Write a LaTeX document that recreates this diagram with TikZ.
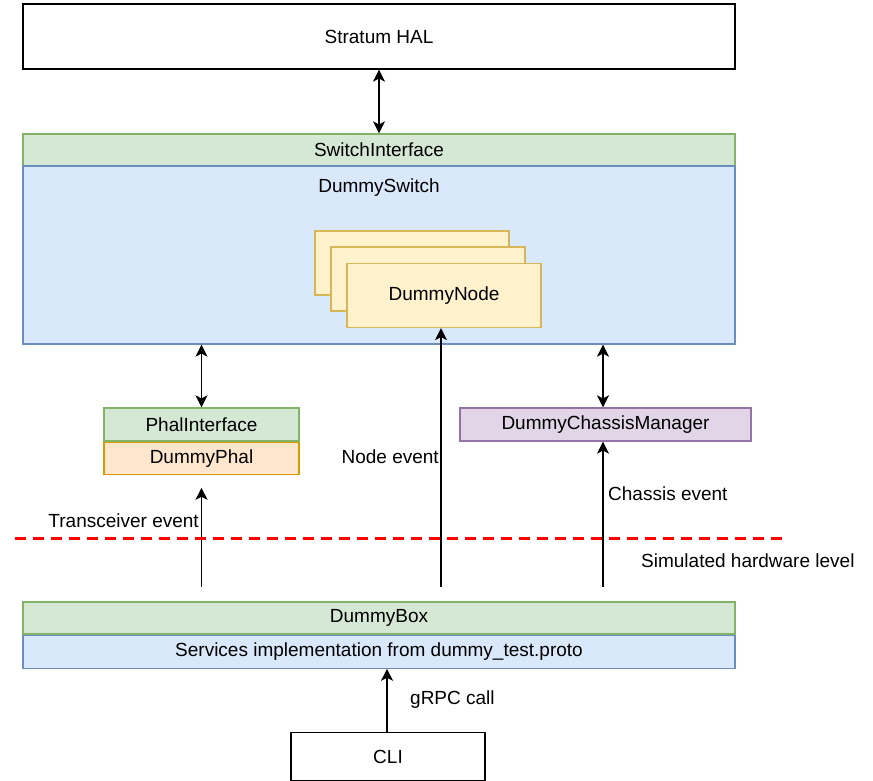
\documentclass[tikz,border=0pt]{standalone}
\usepackage{fontspec}
\setmainfont{Liberation Sans}
\usetikzlibrary{arrows.meta}

\definecolor{greenfill}{HTML}{D5E8D4}
\definecolor{greenline}{HTML}{82B366}
\definecolor{bluefill}{HTML}{DAE8FC}
\definecolor{blueline}{HTML}{6C8EBF}
\definecolor{yellowfill}{HTML}{FFF2CC}
\definecolor{yellowline}{HTML}{D6B656}
\definecolor{orangefill}{HTML}{FFE6CC}
\definecolor{orangeline}{HTML}{D79B00}
\definecolor{purplefill}{HTML}{E1D5E7}
\definecolor{purpleline}{HTML}{9673A6}

\begin{document}
\begin{tikzpicture}[
        %We set the scale and define some styles
        x=1pt, y=-1pt,
        every node/.style={font=\fontsize{19}{23}\selectfont, inner sep=0pt},
        box/.style={draw, line width=1.2pt, rectangle},
        plain box/.style={box, draw=black, fill=white},
        green box/.style={box, draw=greenline, fill=greenfill},
        blue box/.style={box, draw=blueline, fill=bluefill},
        yellow box/.style={box, draw=yellowline, fill=yellowfill, minimum width=194pt, minimum height=64pt},
        orange box/.style={box, draw=orangeline, fill=orangefill},
        purple box/.style={box, draw=purpleline, fill=purplefill},
        arrow/.style={line width=1.4pt, -{Stealth[length=12pt,width=12pt,inset=3pt]}},
        both arrow/.style={line width=1.4pt, {Stealth[length=12pt,width=12pt,inset=3pt]}-{Stealth[length=12pt,width=12pt,inset=3pt]}},
        level line/.style={red, line width=3pt, dash pattern=on 11pt off 7pt}
]
    \useasboundingbox (0,0) rectangle (873,781);

    % top layer
    \node[plain box, minimum width=712pt, minimum height=65pt] (hal) at (379,36.5) {Stratum HAL};
    \node[green box, minimum width=712pt, minimum height=32pt] (swif) at (379,150) {SwitchInterface};
    \node[blue box, minimum width=712pt, minimum height=178pt] (dswitch) at (379,255) {};
    \node (dswitchtext) at (379,188) {DummySwitch};

    % stack of nodes
    \node[yellow box] (node1) at (412,263) {};
    \node[yellow box] (node2) at (428,279) {};
    \node[yellow box] (node3) at (444,295.5) {DummyNode};

    % middle layer
    \node[green box, minimum width=195pt, minimum height=33pt] (phalif) at (201.5,424.5) {PhalInterface};
    \node[orange box, minimum width=195pt, minimum height=32pt, anchor=north] (phal) at (phalif.south) {DummyPhal};
    \node[purple box, minimum width=291pt, minimum height=33pt] (dcm) at (605.5,424.5) {DummyChassisManager};

    % bottom layer
    \node[green box, minimum width=712pt, minimum height=32pt] (dbox) at (379,618) {DummyBox};
    \node[blue box, minimum width=712pt, minimum height=33pt, anchor=north] (svc) at (dbox.south) {Services implementation from dummy\_test.proto};
    \node[plain box, minimum width=194pt, minimum height=48pt] (cli) at (388,756.5) {CLI};

    % connectors
    \coordinate (dcmtop) at (603,343);
    \coordinate (trx) at (201.5,587);
    \coordinate (nev) at (441,587);
    \coordinate (chs) at (603,587);
    \coordinate (grpc) at (387,700);
    \draw[both arrow] (hal.south) -- (swif.north);
    \draw[both arrow] (phalif.north |- dswitch.south) -- (phalif.north);
    \draw[both arrow] (dcmtop |- dswitch.south) -- (dcmtop |- dcm.north);
    \draw[arrow, shorten >=13pt] (trx) -- (phal.south);
    \draw[arrow] (nev) -- (nev |- node3.south);
    \draw[arrow] (chs) -- (chs |- dcm.south);
    \draw[arrow] (grpc |- cli.north) -- (grpc |- svc.south);

    % labels
    \node[anchor=east] (trxlabel) at (199,521) {Transceiver event};
    \node[anchor=east] (nevlabel) at (439,457) {Node event};
    \node[anchor=west] (chslabel) at (608,494) {Chassis event};
    \node[anchor=west] (grpclabel) at (410,700) {gRPC call};

    % simulated hardware level
    \draw[level line] (15,538) coordinate (levelstart) -- (783,538) coordinate (levelend);
    \node[anchor=west] (levellabel) at (641,561) {Simulated hardware level};
\end{tikzpicture}
\end{document}
